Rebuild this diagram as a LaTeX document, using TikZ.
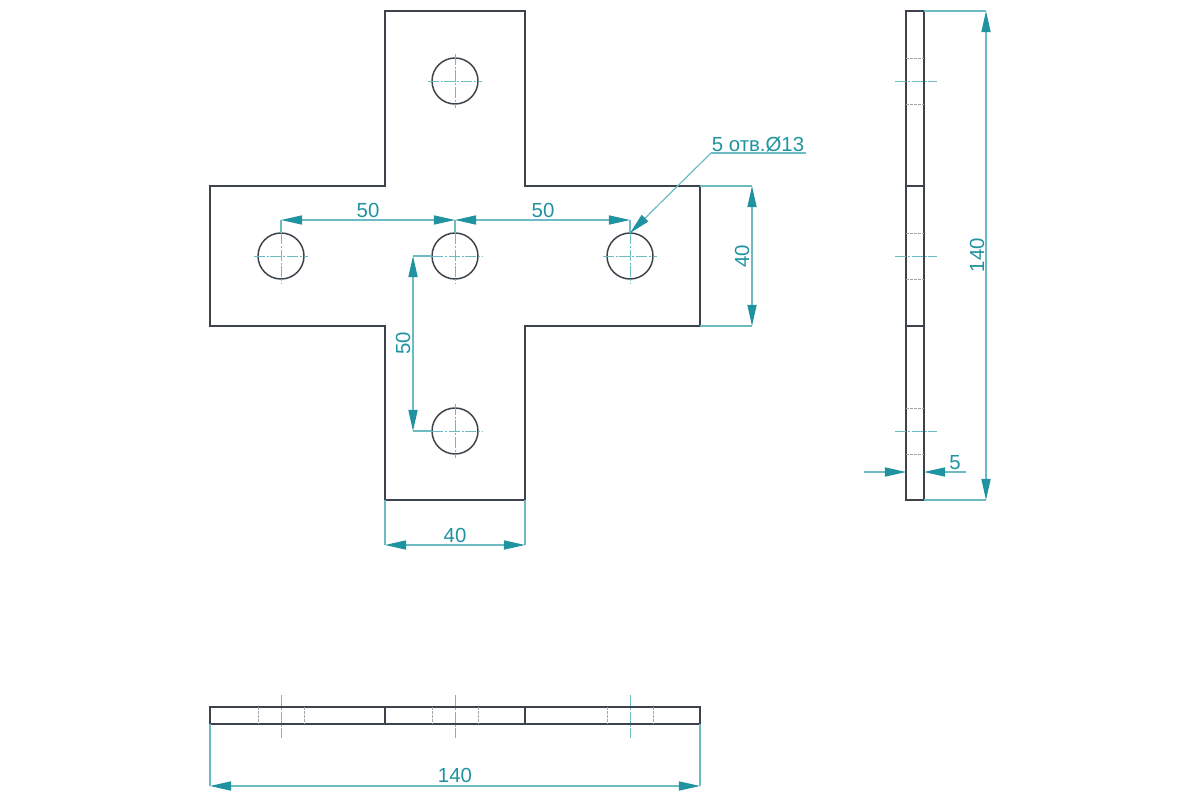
\documentclass[tikz,border=0pt]{standalone}
\usepackage{fontspec}
\setmainfont{Liberation Sans}
\usetikzlibrary{arrows.meta}
\definecolor{dimcolor}{HTML}{1F93A0}
\definecolor{dimline}{HTML}{6DBCC4}
\definecolor{partcolor}{HTML}{3C434B}
\tikzset{
	part/.style={line width=1.05pt, draw=partcolor},
	hole/.style={circle, minimum width=32.7pt, inner sep=0pt, outer sep=0pt, line width=1.05pt, draw=partcolor},
	hidden/.style={line width=0.65pt, draw=gray!70, dash pattern=on 1.8pt off 1.1pt},
	axisline/.style={line width=0.7pt, draw=dimline, dash pattern=on 8pt off 1.2pt on 1.4pt off 1.2pt},
	extline/.style={line width=0.75pt, draw=dimline},
	dimarrow/.style={line width=0.85pt, draw=dimline, {Triangle[length=15pt,width=6.5pt,color=dimcolor]}-{Triangle[length=15pt,width=6.5pt,color=dimcolor]}},
	onearrow/.style={line width=0.85pt, draw=dimline, -{Triangle[length=15pt,width=6.5pt,color=dimcolor]}},
	dimtext/.style={text=dimcolor, inner sep=0pt, font=\fontsize{14.5}{15}\selectfont}
}
\begin{document}
\begin{tikzpicture}[x=0.025cm, y=-0.025cm]
	\useasboundingbox (0,0) rectangle (1200,800);
	% front view
	\draw[part] (385,11) -- (525,11) -- (525,186) -- (700,186) -- (700,326) -- (525,326) -- (525,500) -- (385,500) -- (385,326) -- (210,326) -- (210,186) -- (385,186) -- cycle;
	\node[hole] (top) at(455,81){};
	\node[hole] (left) at(281,256){};
	\node[hole] (mid) at(455,256){};
	\node[hole] (right) at(630,256){};
	\node[hole] (bottom) at(455,431){};
	\draw[axisline] ([yshift=3pt]top.north) -- ([yshift=-3pt]top.south);
	\draw[axisline] ([xshift=-3pt]top.west) -- ([xshift=3pt]top.east);
	\draw[axisline] (left.north) -- ([yshift=-3pt]left.south);
	\draw[axisline] ([xshift=-3pt]left.west) -- ([xshift=3pt]left.east);
	\draw[axisline] (mid.north) -- ([yshift=-3pt]mid.south);
	\draw[axisline] (mid.west) -- ([xshift=3pt]mid.east);
	\draw[axisline] (right.north) -- ([yshift=-3pt]right.south);
	\draw[axisline] ([xshift=-3pt]right.west) -- ([xshift=3pt]right.east);
	\draw[axisline] ([yshift=3pt]bottom.north) -- ([yshift=-3pt]bottom.south);
	\draw[axisline] (bottom.west) -- ([xshift=3pt]bottom.east);
	% side view
	\draw[part] (906,11) rectangle (924,500);
	\draw[part] (906,186) -- (924,186);
	\draw[part] (906,326) -- (924,326);
	\draw[hidden] (906,58) -- (924,58);
	\draw[hidden] (906,104) -- (924,104);
	\draw[hidden] (906,233) -- (924,233);
	\draw[hidden] (906,279) -- (924,279);
	\draw[hidden] (906,408) -- (924,408);
	\draw[hidden] (906,454) -- (924,454);
	\draw[axisline] (895,81) -- (937,81);
	\draw[axisline] (895,256) -- (937,256);
	\draw[axisline] (895,431) -- (937,431);
	% bottom view
	\draw[part] (210,707) rectangle (700,724);
	\draw[part] (385,707) -- (385,724);
	\draw[part] (525,707) -- (525,724);
	\draw[hidden] (258,707) -- (258,724);
	\draw[hidden] (304,707) -- (304,724);
	\draw[hidden] (432,707) -- (432,724);
	\draw[hidden] (478,707) -- (478,724);
	\draw[hidden] (607,707) -- (607,724);
	\draw[hidden] (653,707) -- (653,724);
	\draw[axisline] (281,695) -- (281,738);
	\draw[axisline] (455,695) -- (455,738);
	\draw[axisline] (630,695) -- (630,738);
	% dimension points
	\coordinate (a1) at(281,220);
	\coordinate (a2) at(455,220);
	\coordinate (a3) at(630,220);
	\coordinate (b1) at(413,256);
	\coordinate (b2) at(413,431);
	\coordinate (c1) at(752,186);
	\coordinate (c2) at(752,326);
	\coordinate (d1) at(385,545);
	\coordinate (d2) at(525,545);
	\coordinate (e1) at(210,786);
	\coordinate (e2) at(700,786);
	\coordinate (f1) at(986,11);
	\coordinate (f2) at(986,500);
	\coordinate (g1) at(864,472);
	\coordinate (g2) at(906,472);
	\coordinate (g3) at(966,472);
	\coordinate (g4) at(924,472);
	\coordinate (k1) at(711,153);
	\coordinate (k2) at(806,153);
	% extension lines
	\draw[extline] (a1) -- (left.north);
	\draw[extline] (a2) -- (mid.north);
	\draw[extline] (a3) -- (right.north);
	\draw[extline] (b1) -- (mid.west);
	\draw[extline] (b2) -- (bottom.west);
	\draw[extline] (700,186) -- (c1);
	\draw[extline] (700,326) -- (c2);
	\draw[extline] (385,500) -- (d1);
	\draw[extline] (525,500) -- (d2);
	\draw[extline] (210,724) -- (e1);
	\draw[extline] (700,724) -- (e2);
	\draw[extline] (924,11) -- (f1);
	\draw[extline] (924,500) -- (f2);
	% dimension lines
	\draw[dimarrow] (a1) -- (a2);
	\draw[dimarrow] (a2) -- (a3);
	\draw[dimarrow] (b1) -- (b2);
	\draw[dimarrow] (c1) -- (c2);
	\draw[dimarrow] (d1) -- (d2);
	\draw[dimarrow] (e1) -- (e2);
	\draw[dimarrow] (f1) -- (f2);
	\draw[onearrow] (g1) -- (g2);
	\draw[onearrow] (g3) -- (g4);
	\draw[extline] (k2) -- (k1);
	\draw[onearrow] (k1) -- (right.north);
	% labels
	\node[dimtext] (t50a) at(368,210){50};
	\node[dimtext] (t50b) at(543,210){50};
	\node[dimtext, rotate=90] (t50c) at(403,343){50};
	\node[dimtext, rotate=90] (t40a) at(742,256){40};
	\node[dimtext] (t40b) at(455,535){40};
	\node[dimtext] (t140a) at(455,775){140};
	\node[dimtext, rotate=90] (t140b) at(977,255){140};
	\node[dimtext] (t5) at(955,463){5};
	\node[dimtext] (thole) at(758,144){5 отв.Ø13};
\end{tikzpicture}
\end{document}
